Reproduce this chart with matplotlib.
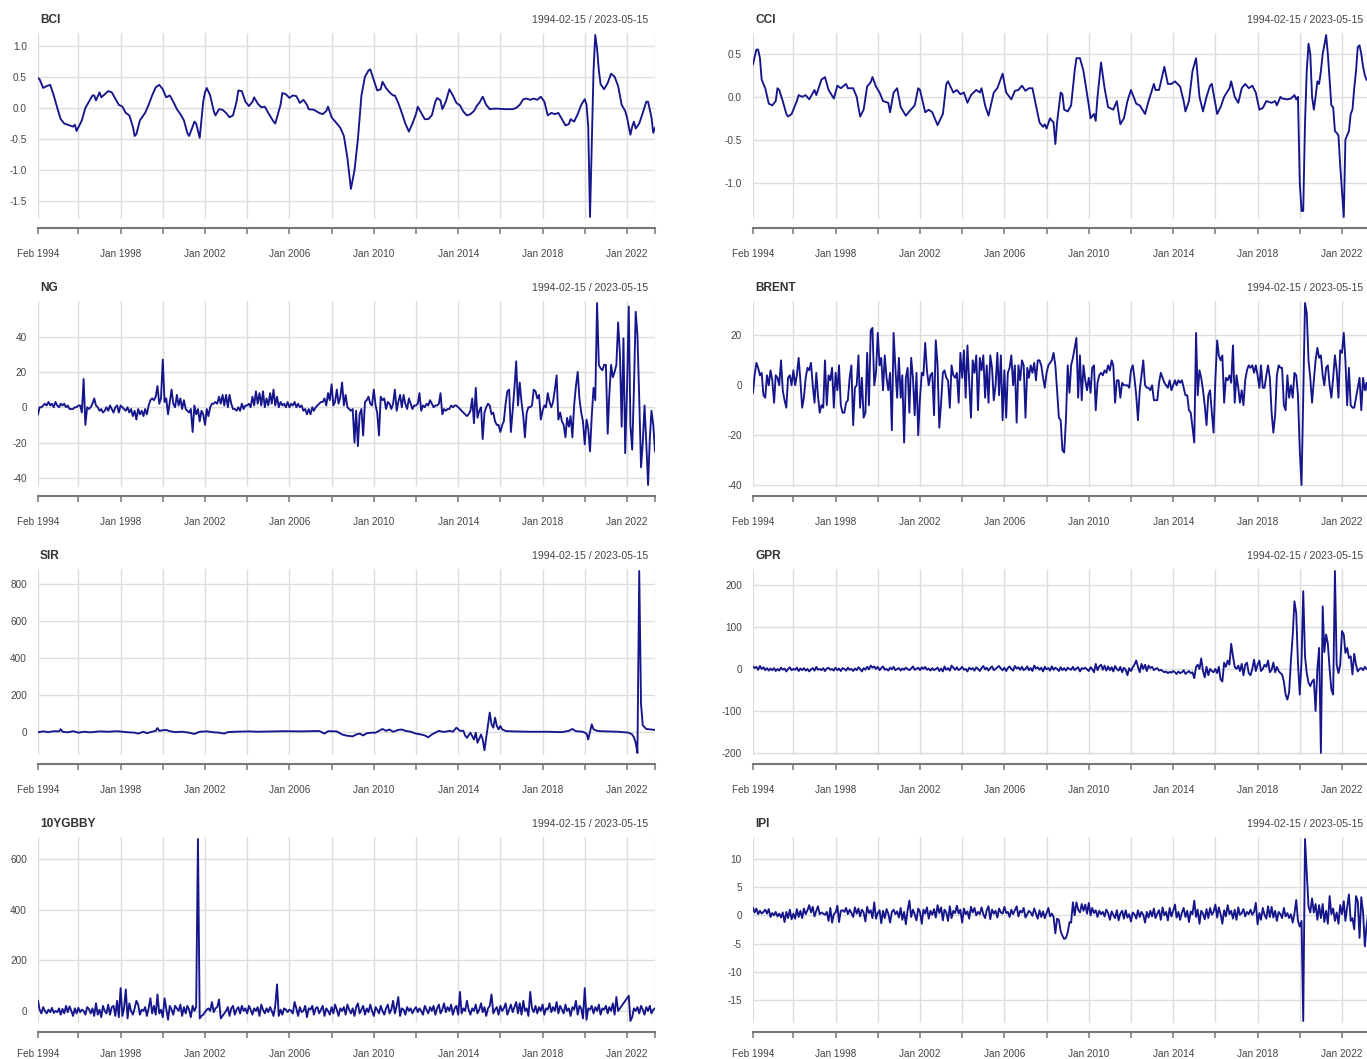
import numpy as np
import pandas as pd
import matplotlib
matplotlib.use("Agg")
import matplotlib.pyplot as plt

plt.rcParams['font.family'] = ['Liberation Sans', 'DejaVu Sans']

# ---------------- data ----------------
# monthly observations, 1994-02-15 ... 2023-05-15 (352 months)
DATES = pd.date_range("1994-02-01", periods=352, freq="MS") + pd.Timedelta(days=14)

# BCI / CCI / SIR: (month number since Feb 1994, value) read at turning points
BCI_MONTH = [0, 1, 3, 5, 7, 9, 11, 13, 15, 18, 20, 21, 22, 25, 27, 30, 31, 32, 33, 35, 36, 38, 40, 42, 44, 46,
             48, 50, 52, 54, 55, 56, 58, 61, 63, 65, 67, 69, 71, 73, 75, 77, 79, 81, 83, 85, 86, 88, 89, 90, 92,
             94, 95, 96, 98, 100, 101, 103, 105, 107, 109, 111, 113, 114, 116, 118, 120, 122, 123, 125, 127, 129,
             131, 134, 135, 138, 139, 141, 143, 145, 147, 149, 151, 153, 154, 157, 160, 162, 164, 165, 167, 170,
             172, 174, 176, 178, 180, 182, 184, 186, 188, 189, 191, 193, 195, 196, 198, 200, 202, 203, 205, 207,
             209, 211, 213, 215, 216, 218, 220, 222, 224, 226, 227, 229, 230, 232, 234, 236, 238, 240, 242, 244,
             246, 248, 250, 251, 253, 255, 257, 260, 266, 270, 272, 274, 276, 278, 280, 282, 284, 286, 288, 290,
             292, 294, 296, 298, 300, 302, 303, 305, 307, 309, 311, 312, 313, 314, 315, 316, 317, 318, 319, 320,
             322, 324, 326, 328, 330, 332, 334, 335, 337, 338, 339, 340, 342, 344, 346, 347, 349, 350, 351]
BCI = [0.48, 0.46, 0.32, 0.35, 0.37, 0.20, 0.00, -0.18, -0.25, -0.28, -0.30, -0.27, -0.37, -0.20, 0.00, 0.15,
       0.20, 0.20, 0.12, 0.25, 0.17, 0.22, 0.27, 0.25, 0.15, 0.05, 0.02, -0.08, -0.12, -0.30, -0.45, -0.42, -0.20,
       -0.08, 0.05, 0.20, 0.33, 0.37, 0.30, 0.17, 0.20, 0.10, -0.02, -0.10, -0.20, -0.40, -0.45, -0.30, -0.22,
       -0.25, -0.48, 0.10, 0.25, 0.32, 0.20, -0.05, -0.12, -0.02, -0.03, -0.08, -0.15, -0.12, 0.10, 0.28, 0.27,
       0.10, 0.03, 0.10, 0.17, 0.07, 0.01, 0.02, -0.08, -0.22, -0.25, 0.05, 0.24, 0.22, 0.16, 0.20, 0.19, 0.08,
       0.13, 0.05, -0.02, -0.03, -0.08, -0.10, -0.05, 0.02, -0.15, -0.25, -0.32, -0.45, -0.80, -1.30, -1.00,
       -0.50, 0.20, 0.50, 0.60, 0.62, 0.45, 0.28, 0.30, 0.42, 0.32, 0.25, 0.20, 0.20, 0.08, -0.08, -0.25, -0.38,
       -0.25, -0.10, 0.02, -0.08, -0.18, -0.18, -0.12, 0.10, 0.16, 0.12, -0.02, 0.10, 0.30, 0.20, 0.08, 0.04,
       -0.06, -0.12, -0.10, -0.05, 0.05, 0.08, 0.18, 0.05, -0.02, -0.01, -0.02, -0.02, 0.00, 0.05, 0.14, 0.15,
       0.13, 0.15, 0.13, 0.18, 0.10, -0.12, -0.08, -0.10, -0.08, -0.18, -0.28, -0.26, -0.18, -0.22, -0.10, 0.05,
       0.14, 0.05, -0.30, -1.75, -0.60, 0.60, 1.17, 0.95, 0.60, 0.38, 0.30, 0.40, 0.55, 0.50, 0.35, 0.05, -0.05,
       -0.15, -0.43, -0.30, -0.22, -0.33, -0.25, -0.08, 0.10, 0.10, -0.15, -0.40, -0.32]

CCI_MONTH = [0, 2, 3, 4, 5, 7, 9, 11, 13, 14, 15, 17, 19, 20, 22, 25, 26, 28, 30, 32, 35, 36, 39, 41, 43, 46, 48,
             50, 53, 54, 57, 59, 61, 63, 65, 67, 68, 70, 72, 74, 77, 78, 80, 82, 84, 87, 89, 92, 94, 95, 98, 100,
             102, 105, 108, 110, 111, 114, 116, 118, 120, 122, 124, 127, 129, 130, 132, 134, 137, 139, 142, 144,
             147, 149, 151, 153, 155, 157, 159, 161, 163, 165, 166, 167, 169, 171, 172, 173, 175, 176, 177, 179,
             181, 183, 184, 186, 188, 191, 192, 194, 195, 196, 198, 200, 202, 204, 205, 207, 209, 211, 213, 215,
             218, 220, 223, 225, 228, 229, 231, 234, 236, 238, 240, 243, 245, 246, 248, 250, 252, 254, 256, 258,
             260, 261, 264, 266, 268, 271, 272, 274, 276, 278, 280, 282, 284, 286, 288, 290, 292, 295, 297, 298,
             300, 301, 304, 306, 308, 309, 310, 311, 312, 313, 314, 315, 316, 317, 318, 319, 320, 321, 322, 323,
             324, 325, 326, 327, 328, 329, 330, 331, 332, 333, 334, 335, 336, 337, 338, 339, 340, 341, 342, 343,
             344, 345, 346, 347, 348, 349, 350, 351]
CCI = [0.38, 0.55, 0.55, 0.45, 0.20, 0.10, -0.08, -0.10, -0.05, 0.10, 0.08, -0.05, -0.20, -0.23, -0.20, -0.05,
       0.02, 0.00, 0.02, -0.03, 0.08, 0.02, 0.20, 0.23, 0.08, -0.02, 0.13, 0.10, 0.15, 0.10, 0.10, 0.00, -0.23,
       -0.15, 0.12, 0.17, 0.23, 0.12, 0.05, -0.05, -0.07, -0.18, 0.05, 0.10, -0.12, -0.22, -0.17, -0.10, 0.10,
       0.08, -0.18, -0.15, -0.18, -0.33, -0.20, 0.15, 0.18, 0.05, 0.08, 0.03, 0.05, -0.07, 0.02, 0.08, 0.05,
       0.10, -0.10, -0.22, 0.05, 0.10, 0.27, 0.05, -0.03, 0.07, 0.08, 0.13, 0.07, 0.10, 0.10, -0.10, -0.30,
       -0.35, -0.32, -0.37, -0.25, -0.30, -0.55, -0.30, 0.05, 0.03, -0.15, -0.17, -0.10, 0.30, 0.45, 0.45, 0.30,
       -0.10, -0.25, -0.20, -0.28, 0.00, 0.40, 0.10, -0.12, -0.14, -0.15, -0.05, -0.32, -0.25, -0.05, 0.08,
       -0.08, -0.10, -0.20, -0.05, 0.15, 0.08, 0.08, 0.35, 0.15, 0.15, 0.18, 0.12, -0.05, -0.17, -0.05, 0.30,
       0.45, 0.00, -0.17, 0.00, 0.13, 0.15, -0.20, -0.12, 0.00, 0.10, 0.18, 0.00, -0.07, 0.10, 0.15, 0.10, 0.13,
       0.05, -0.15, -0.13, -0.05, -0.07, -0.05, -0.10, 0.00, -0.02, -0.03, -0.02, 0.02, -0.03, 0.00, -1.00,
       -1.33, -1.33, -0.30, 0.30, 0.62, 0.50, 0.00, -0.15, 0.00, 0.18, 0.15, 0.30, 0.50, 0.60, 0.72, 0.50, 0.20,
       -0.10, -0.12, -0.40, -0.42, -0.45, -0.80, -1.10, -1.40, -0.50, -0.45, -0.40, -0.20, -0.15, 0.10, 0.30,
       0.58, 0.60, 0.50, 0.35, 0.25, 0.20, 0.18, 0.17]

SIR_MONTH = [0, 3, 6, 9, 12, 13, 14, 17, 20, 23, 26, 30, 35, 40, 45, 50, 55, 57, 60, 62, 64, 67, 68, 69, 71, 73,
             75, 78, 82, 86, 89, 92, 96, 100, 103, 106, 108, 112, 120, 125, 140, 150, 160, 163, 165, 170, 173, 176,
             179, 181, 183, 185, 187, 190, 192, 194, 196, 198, 200, 202, 205, 207, 209, 212, 215, 218, 220, 222,
             224, 226, 228, 230, 232, 234, 236, 238, 240, 242, 243, 244, 246, 248, 249, 250, 252, 253, 254, 257,
             258, 259, 260, 261, 262, 263, 264, 266, 270, 280, 290, 298, 302, 304, 306, 310, 312, 313, 315, 316,
             318, 320, 330, 336, 338, 339, 340, 341, 342, 343, 344, 346, 349, 351]
SIR = [-3, 2, -2, 3, 2, 14, 0, -3, 3, -5, 0, -3, 2, 0, 3, -2, -5, -10, 0, -8, -2, 5, 20, 5, 8, 10, 3, -2, 0, -5,
       -12, 0, 2, -3, -5, -10, -2, 0, 2, 0, 3, 2, 4, -10, 3, 2, -15, -22, -25, -15, -10, -20, -8, -5, -5, 5, 15,
       5, 12, 0, 10, 12, 5, 0, -10, -15, -20, -30, -15, -5, 5, 0, 0, 5, 0, 22, 5, 5, -20, -33, -5, -42, -5, -60,
       -15, -42, -100, 104, 40, 22, 76, 31, 13, 31, 13, 4, 2, 0, 0, -2, 5, 15, 3, 0, -10, -42, 40, 13, 5, 3, 0,
       -5, -15, -30, -60, -115, 870, 150, 35, 15, 12, 10]

NG = [
    -4, 0, 0, 1, 2, 1, 3, 1, 2, 0, 3,                  # 1994
    1, 0, 2, 1, 2, 0, 1, -1, -1, -1, 0, 0,             # 1995
    1, 1, -3, 16, -10, 0, -1, 0, 2, 5, 1, 0,           # 1996
    -2, -1, -3, -2, 0, -2, 1, -1, -3, 0, 1, -3,        # 1997
    1, 0, -1, -2, 0, -3, -1, -5, -2, -7, -1, -4,       # 1998
    -2, -5, -1, -4, 1, 4, 5, 4, 6, 12, 2, 5,           # 1999
    27, 3, 5, -4, 3, 10, 2, 0, 7, 1, 5, -1,            # 2000
    4, -1, -2, -3, -1, -14, 1, -4, -1, -8, -2, -4,     # 2001
    -10, -1, -5, 0, 2, 2, 3, 2, 6, 2, 7, 1,            # 2002
    7, 0, 7, 2, -1, -1, -2, 0, -2, 2, -1, 1,           # 2003
    1, 2, 0, 6, 1, 9, 2, 8, 1, 9, 0, 5,                # 2004
    1, 8, 2, 10, 1, 6, 0, 3, 1, 2, 0, 3,               # 2005
    0, 2, 1, 3, 0, 2, 0, 1, -2, -1, -4, -1,            # 2006
    -4, 0, -2, 0, 1, 2, 3, 3, 5, 1, 8, 4,              # 2007
    13, 1, 3, 10, 2, 6, 14, 1, 7, 0, -1, -2,           # 2008
    -1, -20, -2, -22, -4, -1, -16, 3, 4, 6, 2, 1,      # 2009
    10, 1, -3, -16, 6, 4, 5, -1, 3, 2, -1, 2,          # 2010
    10, -2, 3, 7, 0, 7, 2, -1, 5, 2, -1, 1,            # 2011
    1, 2, 8, -2, 1, 0, 2, 1, 4, 2, 0, 1,               # 2012
    1, 2, 8, -4, -1, -2, -1, -1, 1, 0, 1, 1,           # 2013
    0, -1, -2, -3, -4, -5, -4, -2, 5, -9, 11, -6,      # 2014
    -2, 0, -18, -3, 0, 2, 1, -4, -3, -8, -10, -10,     # 2015
    -14, -10, -8, 2, 9, 10, -14, -2, 11, 26, 1, 14,    # 2016
    3, -5, -17, -3, 0, 0, 1, 10, 9, 5, 7, -7,          # 2017
    -2, 1, 0, 8, 3, 0, 3, 10, 18, -7, -3, -8,          # 2018
    -10, -17, -6, -11, -5, -17, 1, 12, 20, 5, -3, -8,  # 2019
    -21, -7, -12, -25, -5, 11, 4, 59, 24, 22, 21, 24,  # 2020
    24, -15, 7, 24, 17, 20, 24, 48, 30, -11, 39, -26,  # 2021
    10, 57, -10, -24, 10, 54, 41, 5, -34, -20, 1, -20, # 2022
    -44, -17, -2, -10, -25,                            # 2023
]

BRENT = [
    -3, 4, 9, 7, 4, 5, -4, -5, 4, 0, 6,                  # 1994
    2, -7, 4, 3, 0, 10, -2, -6, -9, 3, 4, 0,             # 1995
    6, 0, 4, 11, 2, -9, -5, 3, 7, 6, 9, 0,               # 1996
    -7, 5, -4, -11, -8, -9, 10, -8, 4, 2, 7, -9,         # 1997
    5, -2, 8, -8, -11, -11, -7, -6, 3, 8, -16, -1,       # 1998
    0, 12, -9, 3, -13, -11, 13, -8, 22, 23, 0, 5,        # 1999
    21, 8, 11, -2, 12, 3, -2, 5, -18, 21, 7, -5,         # 2000
    11, -5, 4, -23, 3, 7, -11, 11, 3, -12, 5, -20,       # 2001
    -5, 5, 4, 17, 6, 0, 4, 5, -12, 18, 8, -17,           # 2002
    -7, 5, 6, 3, 2, -9, 8, 4, 3, 5, -7, 13,              # 2003
    3, 14, -5, 16, 2, -13, 10, 5, 12, -10, 11, 6,        # 2004
    12, -5, 8, -7, 12, 7, -6, 0, 13, -4, 12, -14,        # 2005
    6, -13, 5, 7, 12, 0, 8, -15, 8, 2, 10, 8,            # 2006
    -13, 7, 3, 8, 5, 9, 2, 10, 10, 8, 3, -1,             # 2007
    5, 8, 9, 10, 13, 8, -2, -13, -14, -26, -27, -14,     # 2008
    8, -3, 8, 11, 15, 19, -5, 12, -6, 8, 2, -2,          # 2009
    3, -3, 7, 8, -10, 1, 4, 5, 4, 6, 5, 8,               # 2010
    6, 10, 8, -7, 2, 2, -5, 1, 0, 0, 0, -1,              # 2011
    6, 8, 3, -4, -14, -2, 4, 10, 0, -1, -1, -2,          # 2012
    0, -6, -6, -6, 1, 5, 3, 1, 0, -1, 2, -2,             # 2013
    0, 2, 0, 2, 1, 2, -1, -4, -4, -10, -11, -17,         # 2014
    -23, 21, -4, 6, 3, -2, -8, -16, -4, -2, -11, -19,    # 2015
    2, 18, 12, 10, 12, -7, 3, 2, 4, 1, 16, -7,           # 2016
    4, -1, -7, -2, -8, 2, 6, 8, 7, 8, 5, 8,              # 2017
    4, -1, 8, -1, -1, 4, 8, 3, -11, -19, -12, 4,         # 2018
    8, 7, 7, -8, -10, 4, -5, 0, -5, 5, 4, -4,            # 2019
    -26, -40, -4, 33, 29, 10, 3, -7, 2, 10, 15, 11,      # 2020
    12, 4, 0, 7, 8, 0, -5, 3, 12, 6, -5, 14,             # 2021
    13, 21, 10, -8, 7, -8, -9, -9, -5, -1, 3, -10,       # 2022
    3, -2, 1, -4, 2,                                     # 2023
]

GPR = [
    6, 2, 5, -2, 7, 0, 4, -3, 2, -4, 1,                  # 1994
    -3, 2, -5, 0, -4, 3, -2, 1, -6, 0, 4, -3,            # 1995
    0, -2, 3, -5, 1, -3, 2, -4, 0, -6, -1, 2,            # 1996
    -4, 5, -2, 0, -3, 2, -5, 1, 3, -2, 0, -4,            # 1997
    3, -3, 1, -5, 2, 0, -4, 3, -2, 0, -5, 1,             # 1998
    -3, 4, 0, -6, 2, -2, 5, -1, 8, 3, 6, 0,              # 1999
    5, -3, 2, 6, -2, 0, -4, 3, -1, 5, -3, 0,             # 2000
    2, -4, 1, -2, 3, 0, -3, 1, 6, -2, 0, 3,              # 2001
    -3, 4, 0, 5, -2, 1, -4, 2, -3, 0, 3, -5,             # 2002
    1, -6, 6, -2, 2, -4, 8, 3, -2, 4, -3, 0,             # 2003
    5, -2, 0, -6, 3, -1, 2, -4, 4, 0, -5, 2,             # 2004
    7, -1, 3, -4, 2, 6, -3, 0, 4, 7, 1, -3,              # 2005
    3, -5, 2, 6, 0, -4, 7, 1, 4, -2, 5, -3,              # 2006
    0, 6, -3, 2, -5, 8, 1, 4, -2, 3, -6, 5,              # 2007
    -1, 2, -4, 6, -2, 3, 0, -5, 4, -3, 2, -4,            # 2008
    3, 0, -2, 5, -3, 1, 4, -6, 2, 0, 3, -1,              # 2009
    -5, 4, 0, -8, 12, -3, 6, 10, -2, 8, -4, 6,           # 2010
    -3, 4, -6, 7, 0, -4, 5, -8, 3, -2, -15, 2,           # 2011
    -5, 4, 10, 20, 5, -8, 12, 0, 10, -5, 8, 2,           # 2012
    5, -3, 0, 2, -4, -2, -5, -8, -6, -10, -7, -9,        # 2013
    -5, -8, -12, -6, -10, -8, -3, -12, -8, -5, -10, -8,  # 2014
    -22, 5, 10, 0, 25, -5, -20, 5, -15, 0, -5, -8,       # 2015
    0, -10, 5, -25, -30, 15, 5, 20, 10, 60, 30, 5,       # 2016
    0, 8, -5, 12, -15, 10, 15, -10, -15, 0, 22, -5,      # 2017
    10, 20, -5, 0, 10, 5, 20, -8, -2, 15, -8, 5,         # 2018
    -5, -10, -13, -30, -61, -73, -55, 20, 80, 161, 133, 14,  # 2019
    -61, 20, 185, 30, -10, -33, -41, -30, -25, -100, 0, 50,  # 2020
    -200, 149, 40, 82, 60, 0, -49, -61, 233, 10, -10, 10,    # 2021
    90, 82, 38, 50, 26, 30, -13, 36, 10, -6, 0, 2,           # 2022
    -3, 5, 0, -2, 3,                                         # 2023
]

YGBBY10 = [
    40, 5, -10, 15, 0, -10, 5, -5, 12, -8, 0,            # 1994
    -5, 10, -15, 8, -10, 20, -5, 18, 0, -20, 10, -10,    # 1995
    12, -5, 5, 0, -15, 15, 8, -10, 10, -20, 30, -15,     # 1996
    5, -25, 20, 0, -10, 25, -15, 15, 20, -20, 40, -25,   # 1997
    90, -20, 10, 85, -30, 30, 0, -15, 10, 40, 25, -15,   # 1998
    5, 0, 15, -20, 10, 50, -10, 20, -15, 65, -10, 5,     # 1999
    -25, 50, 10, -35, 20, 5, -15, 20, 10, 0, 25, -20,    # 2000
    15, -10, 20, 5, -25, 20, 0, 15, 680, -30, -20, -15,  # 2001
    -5, 5, 10, 0, 35, -5, 10, 15, 45, -30, -20, -10,     # 2002
    0, 15, -20, 10, 20, -15, 5, 15, -10, 20, 0, 10,      # 2003
    -10, 20, 5, -15, 10, 0, 15, -20, 25, 5, -10, 10,     # 2004
    -5, 15, 0, -20, 20, 105, -20, 5, -15, 10, 5, -5,     # 2005
    5, 0, -10, 35, 10, -20, 15, -5, 0, 20, -25, 10,      # 2006
    5, 20, -15, 10, 15, -10, 5, 20, -20, 10, 0, -15,     # 2007
    15, -10, 25, 5, -20, 10, 0, 15, -15, 25, 5, -10,     # 2008
    10, -20, 15, 30, -10, 5, 20, -15, 10, -5, 25, 0,     # 2009
    -20, 15, 5, -10, 20, 0, -15, 10, 25, -10, 5, 40,     # 2010
    -10, 20, 55, -20, 10, 5, -15, 15, 0, 10, -10, 5,     # 2011
    15, -5, 10, 0, -15, 20, 5, -10, 15, 0, 20, -15,      # 2012
    10, 25, -10, 5, 30, -5, 15, 0, 25, -15, 10, 20,      # 2013
    -15, 75, -10, 10, 0, 40, 5, -15, 10, 0, 25, -10,     # 2014
    5, 30, -5, 15, -20, 10, 20, 65, -10, 5, 15, -15,     # 2015
    20, 0, 10, 30, -15, 5, 25, -5, 15, 35, -10, 30,      # 2016
    -15, 40, 0, 10, -20, 75, 10, -5, 20, -10, 15, 0,     # 2017
    25, -15, 10, 5, 30, -5, 15, 0, 35, -10, 20, 5,       # 2018
    -10, 25, 0, 10, -20, 15, 5, 40, -15, 20, 10, -30,    # 2019
    90, -35, 10, 5, 20, -10, 15, 0, 25, -15, 10, 5,      # 2020
    20, -10, 15, 0, 30, -15, 55, 0, 10, 20, 30, 40,      # 2021
    50, 60, -40, -25, 10, 0, 15, -10, 20, 5, -15, 15,    # 2022
    0, 20, -10, 5, 10,                                   # 2023
]

IPI = [
    1.3, 0.5, 1.2, 0.2, 0.8, 0.3, 0.6, 1.0, 0.3, 1.1, -0.3,              # 1994
    0.4, 0.0, 0.6, -0.2, 0.3, -0.4, 0.5, -1.2, 0.6, -0.5, 1.0, -0.7,     # 1995
    0.3, -0.6, 1.1, -0.3, 0.8, -0.5, 1.2, 0.2, 0.9, 1.8, 0.5, 1.5,       # 1996
    -0.2, 0.8, 1.6, 0.2, 0.5, 0.3, 0.1, 0.6, -1.0, 1.3, -1.3, 0.2,       # 1997
    0.5, 1.7, -1.2, 0.8, 0.9, 0.6, 1.3, 0.2, 1.0, 0.4, -0.3, 1.4,        # 1998
    0.3, 1.2, -0.2, 1.0, 0.5, -1.1, 1.5, 0.4, 0.9, -0.5, 2.3, -0.6,      # 1999
    0.4, 0.9, -1.4, 0.8, -0.5, 1.1, 0.3, -1.3, 0.6, 1.0, 0.2, 0.7,       # 2000
    -0.4, 1.3, -0.8, 0.6, -1.6, 0.9, 2.6, -0.3, 1.0, 0.2, -0.9, 1.2,     # 2001
    0.6, -1.5, 1.0, 0.3, 1.4, -0.6, 0.8, 0.1, 1.1, -0.4, 1.8, 0.4,       # 2002
    1.4, -0.9, 1.0, 0.5, -1.0, 1.6, -0.5, 0.8, 0.4, 1.7, 0.3, 1.0,       # 2003
    -1.3, 1.2, 0.2, 0.7, -0.6, 1.5, 0.5, 1.3, 0.0, 0.6, 0.2, 1.4,        # 2004
    0.2, -0.5, 0.9, 1.6, -0.7, 1.0, 0.3, 0.8, -0.4, 1.2, 0.5, 0.3,       # 2005
    1.5, 0.4, 0.6, -0.3, 1.0, 0.2, 0.9, 1.6, -0.2, 0.8, 0.5, 1.3,        # 2006
    -0.4, 0.2, 0.8, 0.5, -0.1, 1.2, 0.3, -0.6, 0.9, -0.3, 0.7, -0.5,     # 2007
    0.4, 1.3, -0.2, 0.3, -0.3, -3.2, -0.6, -0.8, -2.8, -3.6, -4.2, -4.0, # 2008
    -3.0, -1.2, -1.3, 2.3, 0.0, 2.3, 1.0, 0.5, 2.0, 0.8, 1.9, 0.3,       # 2009
    2.2, 0.0, 1.3, 0.4, 0.9, -0.3, 0.8, 0.2, 0.6, -0.2, 1.0, 0.4,        # 2010
    -0.8, 0.7, 0.1, -0.5, 0.9, -0.9, 0.3, 0.8, -0.6, 0.9, -0.4, 0.2,     # 2011
    -1.1, 0.5, 0.2, -0.6, 0.9, -0.3, 0.6, 0.1, -1.3, 0.6, -0.4, 0.8,     # 2012
    -0.2, 1.2, -0.5, 0.3, 0.9, -0.8, 1.4, 0.0, 0.6, -0.9, 1.3, -0.2,     # 2013
    0.8, 1.9, -0.4, 0.6, -0.8, 0.5, 1.3, -0.3, 0.8, -1.2, 0.7, 0.2,      # 2014
    2.6, -0.3, 1.0, -1.5, 0.8, 0.3, -0.7, 1.1, -0.5, 1.3, 0.1, 0.6,      # 2015
    1.9, -0.4, 1.4, 0.2, -1.5, 0.9, -0.2, 1.8, 0.2, 0.8, -0.6, 1.0,      # 2016
    -0.8, 1.4, 0.1, 0.4, 1.1, -0.2, 0.6, 0.2, 1.0, 0.1, 0.6, 2.2,        # 2017
    -1.6, 0.4, -0.8, 1.3, 0.1, -0.6, 1.6, -0.3, 1.5, -0.4, 0.8, -1.0,    # 2018
    0.6, 0.2, -0.5, 1.3, -0.2, 0.4, -0.5, 0.2, -1.3, 0.3, 2.7, -1.0,     # 2019
    -2.0, -1.0, -18.7, 13.5, 7.5, 1.5, 0.5, 3.0, 0.5, 2.0, -0.8, 1.8,    # 2020
    -0.5, 2.0, -1.2, 0.8, -1.5, 3.4, 0.2, 1.2, -1.0, 0.5, -1.5, 1.8,     # 2021
    0.2, 2.5, -1.0, 1.5, 3.7, -1.0, -0.5, -2.5, 3.4, 2.5, -4.0, 3.2,     # 2022
    0.5, -5.5, -2.0, 0.5, 1.0,                                           # 2023
]

Y_TICKS = {
    "BCI": [-1.5, -1.0, -0.5, 0.0, 0.5, 1.0],
    "CCI": [-1.0, -0.5, 0.0, 0.5],
    "NG": [-40, -20, 0, 20, 40],
    "BRENT": [-40, -20, 0, 20],
    "SIR": [0, 200, 400, 600, 800],
    "GPR": [-200, -100, 0, 100, 200],
    "10YGBBY": [0, 200, 400, 600],
    "IPI": [-15, -10, -5, 0, 5, 10],
}

# ---------------- layout / style ----------------
W, H = 1367, 1059
COL_X = [38, 753]
PANEL_W = 617
ROW_TOP = 33
ROW_STEP = 268
PANEL_H = 186
LINE = "#16168c"
GRID = "#dddddd"
AXIS = "#777777"
TXT = "#444444"

fig = plt.figure(figsize=(W / 100, H / 100), dpi=100)
fig.patch.set_facecolor("white")

panels = [
    ("BCI", 0, 0, BCI_MONTH, BCI, "{:.1f}"),
    ("CCI", 0, 1, CCI_MONTH, CCI, "{:.1f}"),
    ("NG", 1, 0, None, NG, "{:.0f}"),
    ("BRENT", 1, 1, None, BRENT, "{:.0f}"),
    ("SIR", 2, 0, SIR_MONTH, SIR, "{:.0f}"),
    ("GPR", 2, 1, None, GPR, "{:.0f}"),
    ("10YGBBY", 3, 0, None, YGBBY10, "{:.0f}"),
    ("IPI", 3, 1, None, IPI, "{:.0f}"),
]

tick_dates = [DATES[0]] + [pd.Timestamp(f"{y}-01-15") for y in range(1996, 2023, 2)] + [DATES[-1]]
tick_labels = []
for d in tick_dates:
    if d == DATES[0]:
        tick_labels.append(d.strftime("%b %Y"))
    elif d == DATES[-1]:
        tick_labels.append("")
    elif (d.year - 1998) % 4 == 0:
        tick_labels.append(d.strftime("%b %Y"))
    else:
        tick_labels.append("")

date_range_txt = f"{DATES[0]:%Y-%m-%d} / {DATES[-1]:%Y-%m-%d}"

for name, row, col, months, vals, fmt in panels:
    vals = np.asarray(vals, dtype=float)
    if months is None:
        if len(vals) != len(DATES):
            raise ValueError(f"{name}: {len(vals)} values")
        x = DATES
    else:
        if len(months) != len(vals):
            raise ValueError(f"{name}: {len(months)} months vs {len(vals)} values")
        x = DATES[np.asarray(months)]
    left = COL_X[col]
    top = ROW_TOP + ROW_STEP * row
    ax = fig.add_axes([left / W, 1 - (top + PANEL_H) / H, PANEL_W / W, PANEL_H / H])
    ax.plot(x, vals, color=LINE, lw=1.35, solid_joinstyle="round", zorder=3)
    ax.set_xlim(DATES[0], DATES[-1])
    lo, hi = vals.min(), vals.max()
    pad = (hi - lo) * 2.0 / 182
    ax.set_ylim(lo - pad, hi + pad)

    yt = Y_TICKS[name]
    ax.set_yticks(yt)
    ax.set_yticklabels([fmt.format(v) for v in yt])
    ax.set_xticks(tick_dates)
    ax.set_xticklabels(tick_labels)

    ax.grid(True, color=GRID, lw=1.0)
    ax.set_axisbelow(True)
    for s in ("top", "left", "right"):
        ax.spines[s].set_visible(False)
    ax.spines["bottom"].set_position(("outward", 6.5))
    ax.spines["bottom"].set_color(AXIS)
    ax.spines["bottom"].set_linewidth(1.5)
    xpad = 8.5 if row == 3 else 11
    ax.tick_params(axis="x", direction="out", length=4, width=1.1, color=AXIS,
                   pad=xpad, labelsize=7.2, labelcolor=TXT)
    ax.tick_params(axis="y", length=0, pad=8, labelsize=7.2, labelcolor=TXT)

    ax.annotate(name, xy=(0, 1), xycoords="axes fraction", xytext=(1.5, 9.4),
                textcoords="offset points", ha="left", va="center",
                fontsize=8.6, fontweight="bold", color="#333333")
    ax.annotate(date_range_txt, xy=(1, 1), xycoords="axes fraction", xytext=(-5, 9.4),
                textcoords="offset points", ha="right", va="center",
                fontsize=7.6, color=TXT)

fig.savefig("out.png", dpi=100, facecolor="white")
